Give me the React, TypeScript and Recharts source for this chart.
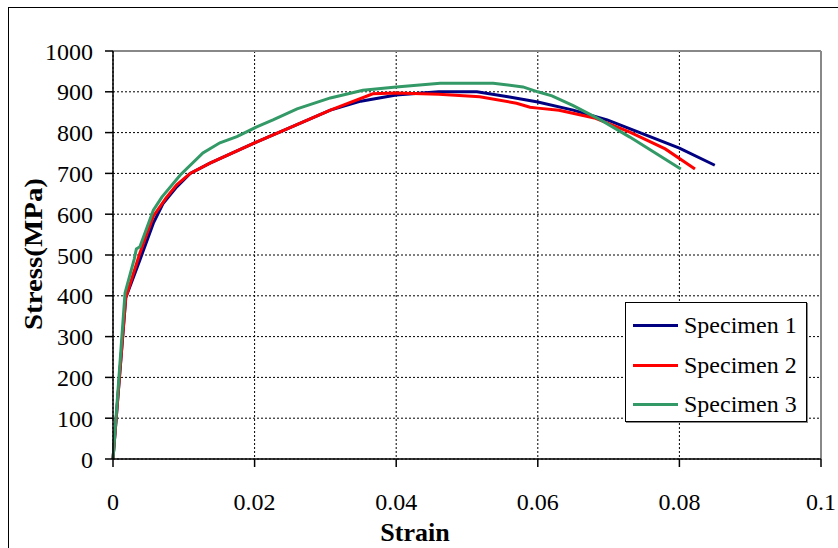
import React from 'react';
import {
  LineChart, Line, XAxis, YAxis, CartesianGrid, ReferenceLine, Label,
} from 'recharts';

// strain / stress readings per specimen
const strain1 = [0, 0.0018, 0.0038, 0.0057, 0.0071, 0.009, 0.0109, 0.0137, 0.02, 0.025, 0.0307, 0.035, 0.04, 0.046, 0.0514, 0.056, 0.06, 0.065, 0.0698, 0.0735, 0.08, 0.085];
const stress1 = [0, 395, 488, 578, 627, 667, 700, 725, 775, 812, 855, 877, 892, 900, 900, 887, 875, 855, 831, 806, 762, 720];

const strain2 = [0, 0.0018, 0.0038, 0.0057, 0.0075, 0.009, 0.0109, 0.0137, 0.02, 0.025, 0.0307, 0.0367, 0.04, 0.046, 0.0518, 0.057, 0.0589, 0.06, 0.063, 0.068, 0.073, 0.078, 0.0822];
const stress2 = [0, 395, 505, 595, 640, 672, 700, 725, 775, 812, 855, 895, 897, 894, 888, 872, 862, 860, 855, 836, 801, 760, 711];

const strain3 = [0, 0.0017, 0.003, 0.0033, 0.0038, 0.0057, 0.0069, 0.0095, 0.0127, 0.0151, 0.0175, 0.0203, 0.0226, 0.026, 0.0307, 0.0353, 0.04, 0.0462, 0.0537, 0.0579, 0.06, 0.062, 0.065, 0.069, 0.073, 0.0802];
const stress3 = [0, 407, 490, 515, 520, 610, 642, 696, 750, 775, 790, 814, 831, 858, 885, 904, 912, 921, 921, 912, 900, 890, 866, 830, 789, 711];

const xTicks = [0, 0.02, 0.04, 0.06, 0.08, 0.1];
const yTicks = [0, 100, 200, 300, 400, 500, 600, 700, 800, 900, 1000];

const seriesNames = ['Specimen 1', 'Specimen 2', 'Specimen 3'];
const seriesColors = ['#000080', '#ff0000', '#339966'];

const toPoints = (xs: number[], ys: number[]) => xs.map((x, i) => ({ x, y: ys[i] }));
const series = [
  toPoints(strain1, stress1),
  toPoints(strain2, stress2),
  toPoints(strain3, stress3),
];

const FONT = '"Liberation Serif", "Times New Roman", serif';
const tickStyle = { fill: '#000', fontSize: 24, fontFamily: FONT };

function LegendBox() {
  return (
    <div style={{
      position: 'absolute', left: 625, top: 302,
      width: 182, height: 120, background: '#fff', border: '1px solid #000',
      boxShadow: '1px 1px 0 #888', boxSizing: 'border-box', paddingTop: 3,
      fontFamily: FONT, fontSize: 24, color: '#000',
    }}>
      {seriesNames.map((n, i) => (
        <div key={n} style={{ display: 'flex', alignItems: 'center', height: 39.5 }}>
          <span style={{ display: 'inline-block', width: 45, height: 3, background: seriesColors[i], marginLeft: 7, marginRight: 6 }} />
          <span>{n}</span>
        </div>
      ))}
    </div>
  );
}

export default function App() {
  return (
    <div style={{ position: 'absolute', left: 0, top: 0, width: 838, height: 548, overflow: 'hidden', background: '#fff', fontFamily: FONT }}>
      <div style={{ position: 'absolute', left: 8, top: 7, width: 900, height: 600, border: '1.5px solid #000' }} />
      <LineChart width={838} height={548} margin={{ top: 51, right: 17, bottom: 0, left: 0 }} style={{ position: 'absolute', left: 0, top: 0 }}>
        <CartesianGrid stroke="#000" strokeDasharray="2 2" strokeWidth={1} />
        <XAxis
          dataKey="x" type="number" domain={[0, 0.1]} ticks={xTicks} height={89}
          tick={tickStyle} tickSize={8} tickMargin={26} stroke="#000" strokeWidth={1.5}
          allowDuplicatedCategory={false}
        >
          <Label content={() => (
            <text x={415} y={541} textAnchor="middle" fontFamily={FONT} fontSize={26} fontWeight="bold" fill="#000">Strain</text>
          )} />
        </XAxis>
        <YAxis
          type="number" domain={[0, 1000]} ticks={yTicks} width={113}
          tick={tickStyle} tickSize={8} tickMargin={12} stroke="#000" strokeWidth={1.5}
        >
          <Label content={() => (
            <text x={0} y={0} transform="translate(42,254) rotate(-90)" textAnchor="middle"
              fontFamily={FONT} fontSize={26} fontWeight="bold" fill="#000"
              textLength={152} lengthAdjust="spacingAndGlyphs">Stress(MPa)</text>
          )} />
        </YAxis>
        <ReferenceLine y={1000} stroke="#888" strokeWidth={2} />
        <ReferenceLine x={0.1} stroke="#888" strokeWidth={2} />
        {series.map((d, i) => (
          <Line
            key={seriesNames[i]} data={d} dataKey="y" name={seriesNames[i]} type="linear"
            stroke={seriesColors[i]} strokeWidth={3} dot={false} isAnimationActive={false}
          />
        ))}
      </LineChart>
      <LegendBox />
    </div>
  );
}
